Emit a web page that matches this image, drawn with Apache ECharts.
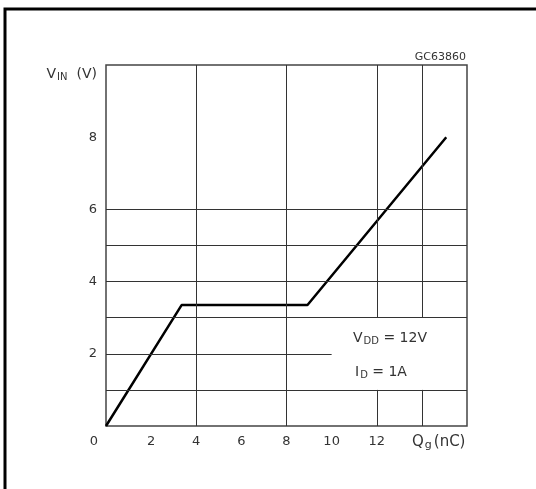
<!DOCTYPE html>
<html>
<head>
<meta charset="utf-8">
<script src="https://cdn.jsdelivr.net/npm/echarts@6/dist/echarts.min.js"></script>
<style>html,body{margin:0;padding:0;background:#fff}#c{width:536px;height:489px}</style>
</head>
<body>
<div id="c"></div>
<script>
// Curve: gate charge Qg (nC) vs input voltage VIN (V)
var qg = [0, 3.35, 8.93, 15.08];
var vin = [0, 3.35, 3.35, 8.0];
var xTicks = [0, 2, 4, 6, 8, 10, 12];
var yTicks = [2, 4, 6, 8];
// grid segments [x1, y1, x2, y2] in data units
var gridSegs = [
  [4, 0, 4, 10], [8, 0, 8, 10],
  [12, 3, 12, 10], [12, 0, 12, 1],
  [14, 3, 14, 10], [14, 0, 14, 1],
  [0, 1, 16, 1], [0, 2, 10, 2], [0, 3, 16, 3],
  [0, 4, 16, 4], [0, 5, 16, 5], [0, 6, 16, 6]
];
var chartCode = 'GC63860';

var chart = echarts.init(document.getElementById('c'), null, {renderer: 'canvas'});
var FONT = 'DejaVu Sans';
var TXT = '#333';
var line = [];
for (var i = 0; i < qg.length; i++) line.push([qg[i], vin[i]]);
var segs = gridSegs.map(function (s) {
  return [{coord: [s[0], s[1]]}, {coord: [s[2], s[3]]}];
});
function big(sz) { return {fontFamily: FONT, fontSize: sz, fill: TXT, color: TXT}; }
function sub(sz, pl, pr) { return {fontFamily: FONT, fontSize: sz, fill: TXT, color: TXT, padding: [6, pr || 0, 0, pl || 0]}; }

chart.setOption({
  animation: false,
  backgroundColor: '#fff',
  grid: {left: 106, top: 65, right: 69, bottom: 63, show: true, borderColor: '#444', borderWidth: 1.5, backgroundColor: 'transparent'},
  xAxis: {
    type: 'value', min: 0, max: 16, interval: 2,
    axisLine: {show: false}, axisTick: {show: false}, splitLine: {show: false},
    axisLabel: {
      margin: 9, color: TXT, fontFamily: FONT, fontSize: 13,
      formatter: function (v) {
        if (xTicks.indexOf(v) < 0) return '';
        if (v === 0) return '{z|0}';
        return String(v);
      },
      rich: {z: {padding: [0, 24, 0, 0], color: TXT, fontFamily: FONT, fontSize: 13}}
    }
  },
  yAxis: {
    type: 'value', min: 0, max: 10, interval: 2,
    axisLine: {show: false}, axisTick: {show: false}, splitLine: {show: false},
    axisLabel: {
      margin: 9, color: TXT, fontFamily: FONT, fontSize: 13,
      formatter: function (v) { return yTicks.indexOf(v) >= 0 ? String(v) : ''; }
    }
  },
  series: [{
    type: 'line', data: line, symbol: 'none',
    lineStyle: {color: '#000', width: 2.5},
    markLine: {
      silent: true, symbol: ['none', 'none'], label: {show: false},
      lineStyle: {color: '#333', width: 1, type: 'solid'},
      data: segs
    },
    z: 3
  }],
  graphic: [
    {type: 'rect', shape: {x: 5, y: 9, width: 600, height: 600}, style: {fill: 'none', stroke: '#000', lineWidth: 3}},
    {type: 'text', x: 466, y: 57, style: {text: chartCode, fontFamily: FONT, fontSize: 11, fill: TXT, align: 'right', verticalAlign: 'middle'}},
    {type: 'text', x: 97, y: 74, style: {
      text: '{a|V}{s|IN}{a|(V)}', align: 'right', verticalAlign: 'middle',
      rich: {a: big(14), s: sub(10, 1, 9)}
    }},
    {type: 'text', x: 412, y: 442, style: {
      text: '{a|Q}{s|g}{a|(nC)}', align: 'left', verticalAlign: 'middle',
      rich: {a: big(15), s: sub(11, 1, 2)}
    }},
    {type: 'text', x: 353, y: 338, style: {
      text: '{a|V}{s|DD}{a| = 12V}', align: 'left', verticalAlign: 'middle',
      rich: {a: big(14), s: sub(10, 1, 0)}
    }},
    {type: 'text', x: 355, y: 372, style: {
      text: '{a|I}{s|D}{a| = 1A}', align: 'left', verticalAlign: 'middle',
      rich: {a: big(14), s: sub(10, 1, 0)}
    }}
  ]
});
</script>
</body>
</html>
